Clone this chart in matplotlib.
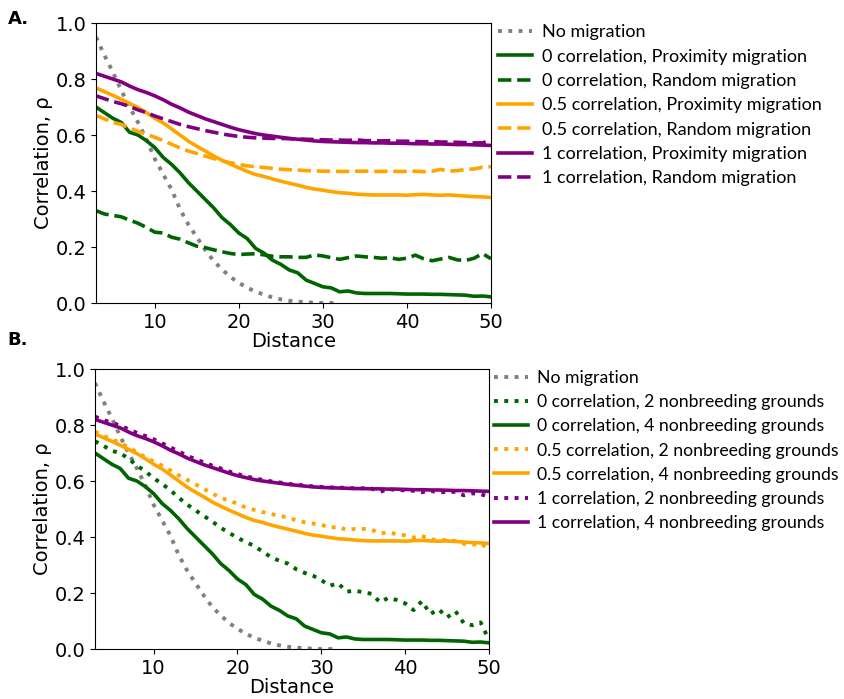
import matplotlib
matplotlib.use("Agg")
import matplotlib.pyplot as plt
import numpy as np

# distances 3..50
distance = np.arange(3, 51)
dist_nomig = np.arange(3, 33)

no_migration = [0.95, 0.885, 0.825, 0.76, 0.70, 0.645, 0.585, 0.515, 0.46, 0.405,
                0.335, 0.28, 0.235, 0.19, 0.15, 0.12, 0.093, 0.072, 0.055, 0.04,
                0.03, 0.02, 0.013, 0.008, 0.005, 0.003, 0.001, 0.0, 0.0, 0.0]

# panel A
c0_prox = [0.70, 0.68, 0.66, 0.645, 0.61, 0.60, 0.58, 0.555, 0.52, 0.495,
           0.465, 0.43, 0.40, 0.37, 0.34, 0.305, 0.28, 0.25, 0.23, 0.195,
           0.178, 0.153, 0.138, 0.118, 0.108, 0.082, 0.07, 0.058, 0.054, 0.04,
           0.043, 0.036, 0.034, 0.034, 0.034, 0.034, 0.033, 0.032, 0.032, 0.032,
           0.031, 0.031, 0.03, 0.029, 0.028, 0.024, 0.025, 0.022]
c0_rand = [0.33, 0.318, 0.313, 0.308, 0.296, 0.285, 0.27, 0.253, 0.25, 0.235,
           0.228, 0.215, 0.203, 0.198, 0.19, 0.183, 0.177, 0.173, 0.175, 0.176,
           0.172, 0.167, 0.165, 0.165, 0.163, 0.163, 0.172, 0.168, 0.162, 0.156,
           0.162, 0.168, 0.165, 0.163, 0.16, 0.162, 0.156, 0.16, 0.171, 0.158,
           0.151, 0.157, 0.163, 0.154, 0.152, 0.16, 0.177, 0.158]
c05_prox = [0.768, 0.755, 0.742, 0.728, 0.713, 0.698, 0.68, 0.66, 0.643, 0.622,
            0.60, 0.578, 0.56, 0.543, 0.525, 0.51, 0.496, 0.483, 0.47, 0.459,
            0.452, 0.443, 0.435, 0.428, 0.421, 0.413, 0.407, 0.403, 0.398, 0.394,
            0.392, 0.389, 0.387, 0.386, 0.386, 0.386, 0.386, 0.385, 0.387, 0.388,
            0.386, 0.385, 0.386, 0.384, 0.382, 0.38, 0.379, 0.377]
c05_rand = [0.67, 0.658, 0.645, 0.638, 0.625, 0.613, 0.603, 0.592, 0.58, 0.567,
            0.554, 0.543, 0.534, 0.525, 0.516, 0.508, 0.501, 0.495, 0.49, 0.487,
            0.484, 0.481, 0.478, 0.476, 0.475, 0.473, 0.472, 0.471, 0.471, 0.47,
            0.47, 0.471, 0.471, 0.47, 0.47, 0.471, 0.47, 0.47, 0.471, 0.469,
            0.471, 0.477, 0.471, 0.473, 0.477, 0.479, 0.485, 0.487]
c1_prox = [0.82, 0.81, 0.80, 0.79, 0.775, 0.762, 0.752, 0.74, 0.726, 0.71,
           0.697, 0.682, 0.67, 0.658, 0.648, 0.638, 0.628, 0.619, 0.612, 0.605,
           0.60, 0.596, 0.592, 0.588, 0.585, 0.582, 0.579, 0.577, 0.576, 0.575,
           0.574, 0.573, 0.573, 0.572, 0.572, 0.571, 0.571, 0.57, 0.569, 0.569,
           0.568, 0.568, 0.567, 0.566, 0.566, 0.565, 0.564, 0.563]
c1_rand = [0.74, 0.73, 0.72, 0.712, 0.702, 0.69, 0.68, 0.668, 0.658, 0.648,
           0.638, 0.63, 0.623, 0.616, 0.61, 0.604, 0.599, 0.595, 0.592, 0.59,
           0.589, 0.588, 0.588, 0.587, 0.586, 0.585, 0.584, 0.583, 0.582, 0.582,
           0.581, 0.583, 0.58, 0.58, 0.579, 0.58, 0.578, 0.578, 0.577, 0.576,
           0.577, 0.575, 0.575, 0.574, 0.573, 0.572, 0.572, 0.582]

# panel B (4 nonbreeding grounds = proximity curves above)
c0_two = [0.742, 0.726, 0.708, 0.70, 0.68, 0.655, 0.635, 0.61, 0.59, 0.567,
          0.54, 0.516, 0.495, 0.475, 0.455, 0.433, 0.415, 0.397, 0.382, 0.368,
          0.348, 0.328, 0.315, 0.305, 0.285, 0.272, 0.262, 0.246, 0.226, 0.235,
          0.205, 0.208, 0.203, 0.197, 0.167, 0.183, 0.175, 0.163, 0.139, 0.171,
          0.125, 0.142, 0.113, 0.135, 0.092, 0.085, 0.095, 0.032]
c05_two = [0.776, 0.762, 0.749, 0.737, 0.72, 0.703, 0.685, 0.67, 0.655, 0.638,
           0.62, 0.604, 0.588, 0.572, 0.555, 0.54, 0.53, 0.519, 0.505, 0.497,
           0.489, 0.482, 0.476, 0.47, 0.46, 0.453, 0.448, 0.444, 0.433, 0.437,
           0.425, 0.429, 0.429, 0.426, 0.413, 0.417, 0.41, 0.406, 0.398, 0.404,
           0.392, 0.389, 0.389, 0.386, 0.376, 0.372, 0.377, 0.357]
c1_two = [0.83, 0.818, 0.808, 0.798, 0.785, 0.772, 0.761, 0.749, 0.735, 0.72,
          0.706, 0.69, 0.678, 0.666, 0.655, 0.645, 0.634, 0.625, 0.617, 0.61,
          0.604, 0.599, 0.595, 0.59, 0.587, 0.584, 0.581, 0.579, 0.577, 0.577,
          0.575, 0.574, 0.574, 0.573, 0.561, 0.572, 0.567, 0.567, 0.565, 0.56,
          0.566, 0.558, 0.562, 0.561, 0.549, 0.556, 0.553, 0.544]

GREEN = 'darkgreen'
ORANGE = 'orange'
PURPLE = 'purple'
GREY = 'grey'

plt.rcParams['font.size'] = 14
fig = plt.figure(figsize=(8.45, 6.99), dpi=100)
ax1 = fig.add_axes([0.1136, 0.5665, 0.4674, 0.4005])
ax2 = fig.add_axes([0.1124, 0.0715, 0.4663, 0.4006])

lw = 2.6
dlw = 2.8

ax1.plot(dist_nomig, no_migration, ':', color=GREY, lw=dlw, label='No migration')
ax1.plot(distance, c0_prox, '-', color=GREEN, lw=lw, label='0 correlation, Proximity migration')
ax1.plot(distance, c0_rand, '--', color=GREEN, lw=lw, label='0 correlation, Random migration')
ax1.plot(distance, c05_prox, '-', color=ORANGE, lw=lw, label='0.5 correlation, Proximity migration')
ax1.plot(distance, c05_rand, '--', color=ORANGE, lw=lw, label='0.5 correlation, Random migration')
ax1.plot(distance, c1_prox, '-', color=PURPLE, lw=lw, label='1 correlation, Proximity migration')
ax1.plot(distance, c1_rand, '--', color=PURPLE, lw=lw, label='1 correlation, Random migration')

ax2.plot(dist_nomig, no_migration, ':', color=GREY, lw=dlw, label='No migration')
ax2.plot(distance, c0_two, ':', color=GREEN, lw=dlw, label='0 correlation, 2 nonbreeding grounds')
ax2.plot(distance, c0_prox, '-', color=GREEN, lw=lw, label='0 correlation, 4 nonbreeding grounds')
ax2.plot(distance, c05_two, ':', color=ORANGE, lw=dlw, label='0.5 correlation, 2 nonbreeding grounds')
ax2.plot(distance, c05_prox, '-', color=ORANGE, lw=lw, label='0.5 correlation, 4 nonbreeding grounds')
ax2.plot(distance, c1_two, ':', color=PURPLE, lw=dlw, label='1 correlation, 2 nonbreeding grounds')
ax2.plot(distance, c1_prox, '-', color=PURPLE, lw=lw, label='1 correlation, 4 nonbreeding grounds')

for ax, anchor_x, fsize in ((ax1, 1.0, 13), (ax2, 0.995, 12.7)):
    ax.set_xlim(3, 50)
    ax.set_ylim(0, 1.0)
    ax.set_xticks([10, 20, 30, 40, 50])
    ax.set_yticks([0.0, 0.2, 0.4, 0.6, 0.8, 1.0])
    ax.set_xlabel('Distance', labelpad=0)
    ax.set_ylabel('Correlation, ρ', labelpad=2)
    ax.legend(loc='upper left', bbox_to_anchor=(anchor_x, 1.021), frameon=False,
              prop={'family': 'Lato', 'size': fsize}, handlelength=1.9,
              handletextpad=0.55, labelspacing=0.46, borderaxespad=0)

fig.text(0.009, 0.9735, 'A.', fontweight='bold', fontsize=13, va='center')
fig.text(0.009, 0.513, 'B.', fontweight='bold', fontsize=13, va='center')

fig.savefig('out.png', dpi=100)
